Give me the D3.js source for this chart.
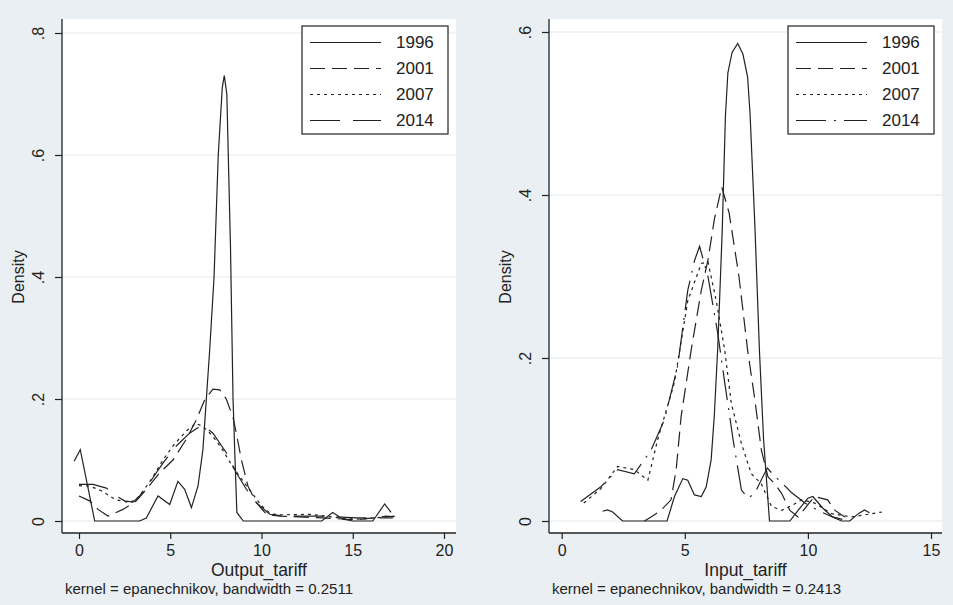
<!DOCTYPE html>
<html>
<head>
<meta charset="utf-8">
<style>
  body { margin: 0; background: #e9eff2; }
  svg { display: block; font-family: "Liberation Sans", Arial, sans-serif; }
  .tick text { fill: #222; }
</style>
</head>
<body>
<svg id="chart" width="953" height="605"></svg>
<script src="https://cdnjs.cloudflare.com/ajax/libs/d3/7.8.5/d3.min.js"></script>
<script>
// legend / series names
const years = ["1996", "2001", "2007", "2014"];

// left panel: kernel density of Output_tariff, [tariff, density]
const out1996 = [[-0.27, 0.098], [0.07, 0.117], [0.86, 0], [3.32, 0], [3.69, 0.005], [4.33, 0.041], [4.97, 0.027],
  [5.42, 0.065], [5.79, 0.052], [6.16, 0.022], [6.52, 0.057], [6.79, 0.117], [7.16, 0.28], [7.4, 0.4], [7.63, 0.6],
  [7.85, 0.71], [7.96, 0.73], [8.1, 0.7], [8.3, 0.45], [8.44, 0.2], [8.55, 0.1], [8.65, 0.014], [9.0, 0], [13.3, 0],
  [13.9, 0.014], [14.47, 0.003], [15.0, 0], [16.1, 0], [16.75, 0.028], [17.1, 0.014]];
const out2001 = [[0, 0.041], [0.58, 0.033], [1.04, 0.019], [1.59, 0.008], [2.41, 0.019], [3.14, 0.033], [3.69, 0.052],
  [4.42, 0.079], [5.15, 0.1], [5.88, 0.134], [6.43, 0.166], [6.89, 0.199], [7.34, 0.216], [7.71, 0.215], [8.07, 0.2],
  [8.44, 0.17], [8.62, 0.144], [8.9, 0.1], [9.26, 0.057], [9.72, 0.03], [10.27, 0.011], [11.0, 0.008], [13.4, 0.005],
  [15.2, 0.002], [16.1, 0.005], [16.84, 0.008], [17.3, 0.007]];
const out2007 = [[0, 0.058], [0.6, 0.057], [1.2, 0.05], [2.0, 0.035], [2.8, 0.03], [3.3, 0.04], [4.0, 0.07], [4.6, 0.1],
  [5.2, 0.125], [5.9, 0.148], [6.4, 0.16], [6.8, 0.155], [7.3, 0.14], [7.8, 0.12], [8.4, 0.09], [9.0, 0.065],
  [9.5, 0.045], [10.0, 0.025], [10.5, 0.012], [11.0, 0.01], [12.7, 0.011], [13.5, 0.008], [14.5, 0.004],
  [15.5, 0.003], [16.5, 0.006], [17.3, 0.008]];
const out2014 = [[0, 0.06], [0.77, 0.06], [1.5, 0.054], [2.05, 0.041], [2.5, 0.033], [2.96, 0.031], [3.32, 0.041],
  [3.87, 0.063], [4.6, 0.095], [5.33, 0.123], [6.06, 0.144], [6.76, 0.158], [7.34, 0.144], [8.07, 0.112],
  [8.62, 0.079], [9.17, 0.052], [9.72, 0.03], [10.45, 0.011], [11.36, 0.008], [13.4, 0.008], [15.2, 0.005],
  [17.2, 0.005]];

// right panel: kernel density of Input_tariff
const in1996 = [[1.66, 0.012], [1.86, 0.0135], [2.07, 0.011], [2.47, 0], [4.28, 0], [4.58, 0.03], [4.92, 0.052],
  [5.12, 0.05], [5.39, 0.032], [5.67, 0.03], [5.87, 0.042], [6.07, 0.075], [6.2, 0.13], [6.34, 0.214],
  [6.52, 0.356], [6.65, 0.497], [6.75, 0.55], [6.92, 0.575], [7.15, 0.586], [7.36, 0.573], [7.55, 0.545],
  [7.65, 0.5], [7.85, 0.36], [8.03, 0.21], [8.2, 0.1], [8.44, 0], [9.27, 0], [9.6, 0.013], [10.0, 0.028],
  [10.2, 0.03], [10.6, 0.016], [11.0, 0.005], [11.37, 0], [11.7, 0], [12.05, 0.009], [12.3, 0.0135], [12.5, 0.01]];
const in2001 = [[3.36, 0], [3.63, 0.005], [4.03, 0.013], [4.44, 0.026], [4.65, 0.063], [4.85, 0.128], [5.26, 0.21],
  [5.67, 0.283], [5.94, 0.32], [6.2, 0.37], [6.5, 0.41], [6.8, 0.378], [7.2, 0.3], [7.55, 0.21], [7.84, 0.15],
  [8.11, 0.087], [8.38, 0.054], [8.65, 0.046], [8.93, 0.034], [9.27, 0.013], [9.6, 0.005], [10.0, 0.02],
  [10.28, 0.03], [10.8, 0.026], [11.1, 0.013], [11.5, 0.005]];
const in2007 = [[0.9, 0.022], [1.6, 0.04], [2.27, 0.067], [2.95, 0.063], [3.5, 0.05], [3.9, 0.1], [4.58, 0.17],
  [5.12, 0.27], [5.67, 0.316], [5.94, 0.318], [6.28, 0.27], [6.62, 0.21], [6.89, 0.144], [7.3, 0.095],
  [7.7, 0.058], [8.1, 0.046], [8.52, 0.018], [8.93, 0.013], [9.4, 0.02], [9.74, 0.026], [10.28, 0.022],
  [10.96, 0.009], [11.78, 0.005], [12.4, 0.008], [13.0, 0.011]];
const in2014 = [[0.77, 0.024], [1.59, 0.042], [2.27, 0.063], [2.95, 0.058], [3.63, 0.087], [4.17, 0.124],
  [4.71, 0.19], [5.12, 0.283], [5.4, 0.32], [5.6, 0.337], [5.94, 0.3], [6.34, 0.23], [6.62, 0.17], [6.96, 0.1],
  [7.3, 0.038], [7.57, 0.028], [7.84, 0.034], [8.1, 0.05], [8.35, 0.065], [8.65, 0.055], [9.0, 0.045],
  [9.33, 0.035], [9.88, 0.022], [10.4, 0.013], [11.0, 0.005], [11.4, 0.002]];

// ticks and labels
const outTicksX = [0, 5, 10, 15, 20];
const outTicksY = [0, 0.2, 0.4, 0.6, 0.8];
const inTicksX = [0, 5, 10, 15];
const inTicksY = [0, 0.2, 0.4, 0.6];

const panels = [
  {
    series: [out1996, out2001, out2007, out2014],
    dashes: ["none", "15,7", "3,4", "30,13"],
    ticksX: outTicksX, ticksY: outTicksY,
    xDomain: [0, 20], yDomain: [0, 0.8],
    title: "Output_tariff", note: "kernel = epanechnikov, bandwidth = 0.2511",
    box: { left: 62, right: 456, top: 19, bottom: 533 },
    xRange: [79, 444], yRange: [521, 33],
    legendX: 302
  },
  {
    series: [in1996, in2001, in2007, in2014],
    dashes: ["none", "15,7", "3,4", "30,8,2,8"],
    ticksX: inTicksX, ticksY: inTicksY,
    xDomain: [0, 15], yDomain: [0, 0.6],
    title: "Input_tariff", note: "kernel = epanechnikov, bandwidth = 0.2413",
    box: { left: 549, right: 942, top: 19, bottom: 533 },
    xRange: [561.7, 931], yRange: [521, 32],
    legendX: 788
  }
];

const svg = d3.select("#chart");
const ink = "#222";
const fmtY = d => d === 0 ? "0" : d3.format(".1f")(d).replace(/^0/, "");

svg.append("rect").attr("width", 953).attr("height", 605).attr("fill", "#e9eff2");

panels.forEach(p => {
  const b = p.box;
  const x = d3.scaleLinear().domain(p.xDomain).range(p.xRange);
  const y = d3.scaleLinear().domain(p.yDomain).range(p.yRange);
  const g = svg.append("g");

  // plot region
  g.append("rect")
    .attr("x", b.left).attr("y", b.top)
    .attr("width", b.right - b.left).attr("height", b.bottom - b.top)
    .attr("fill", "#fff");

  // gridlines
  g.selectAll(".grid")
    .data(p.ticksY)
    .join("line")
    .attr("class", "grid")
    .attr("x1", b.left).attr("x2", b.right)
    .attr("y1", d => y(d)).attr("y2", d => y(d))
    .attr("stroke", "#e3e8eb").attr("stroke-width", 1);

  // curves
  const line = d3.line().x(d => x(d[0])).y(d => y(d[1]));
  p.series.forEach((s, i) => {
    g.append("path")
      .datum(s)
      .attr("d", line)
      .attr("fill", "none")
      .attr("stroke", ink)
      .attr("stroke-width", 1.2)
      .attr("stroke-dasharray", p.dashes[i]);
  });

  // y axis
  const yAxis = g.append("g")
    .attr("transform", `translate(${b.left},0)`)
    .call(d3.axisLeft(y).tickValues(p.ticksY).tickFormat(fmtY).tickSize(7));
  yAxis.select(".domain").remove();
  yAxis.selectAll(".tick line").attr("stroke", ink).attr("stroke-width", 1.2);
  yAxis.selectAll(".tick text")
    .attr("x", null)
    .attr("transform", "translate(-24,0) rotate(-90)")
    .attr("text-anchor", "middle")
    .attr("dy", "0.35em")
    .style("font-size", "16px");
  g.append("line")
    .attr("x1", b.left).attr("x2", b.left)
    .attr("y1", b.top).attr("y2", b.bottom)
    .attr("stroke", ink).attr("stroke-width", 1.3);

  // x axis
  const xAxis = g.append("g")
    .attr("transform", `translate(0,${b.bottom})`)
    .call(d3.axisBottom(x).tickValues(p.ticksX).tickSize(6));
  xAxis.select(".domain").remove();
  xAxis.selectAll(".tick line").attr("stroke", ink).attr("stroke-width", 1.2);
  xAxis.selectAll(".tick text").attr("y", 12).style("font-size", "16px");
  g.append("line")
    .attr("x1", b.left).attr("x2", b.right)
    .attr("y1", b.bottom).attr("y2", b.bottom)
    .attr("stroke", ink).attr("stroke-width", 1.3);

  // titles
  g.append("text")
    .attr("transform", `translate(${b.left - 44},277) rotate(-90)`)
    .attr("text-anchor", "middle")
    .attr("dy", "0.35em")
    .attr("fill", ink)
    .style("font-size", "16px")
    .text("Density");
  g.append("text")
    .attr("x", (b.left + b.right) / 2).attr("y", 575.5)
    .attr("text-anchor", "middle")
    .attr("fill", ink)
    .style("font-size", "17.5px")
    .text(p.title);
  g.append("text")
    .attr("x", b.left + 3).attr("y", 594)
    .attr("fill", ink)
    .style("font-size", "15px")
    .text(p.note);

  // legend
  const lg = g.append("g").attr("transform", `translate(${p.legendX},26)`);
  lg.append("rect")
    .attr("width", 146).attr("height", 108)
    .attr("fill", "#fff").attr("stroke", "#333").attr("stroke-width", 1.3);
  const rows = lg.selectAll(".row")
    .data(years)
    .join("g")
    .attr("class", "row")
    .attr("transform", (d, i) => `translate(0,${16.5 + i * 26})`);
  rows.append("line")
    .attr("x1", 8).attr("x2", 79)
    .attr("stroke", ink).attr("stroke-width", 1.2)
    .attr("stroke-dasharray", (d, i) => p.dashes[i]);
  rows.append("text")
    .attr("x", 94).attr("dy", "0.35em")
    .attr("fill", ink)
    .style("font-size", "17px")
    .text(d => d);
});
</script>
</body>
</html>
